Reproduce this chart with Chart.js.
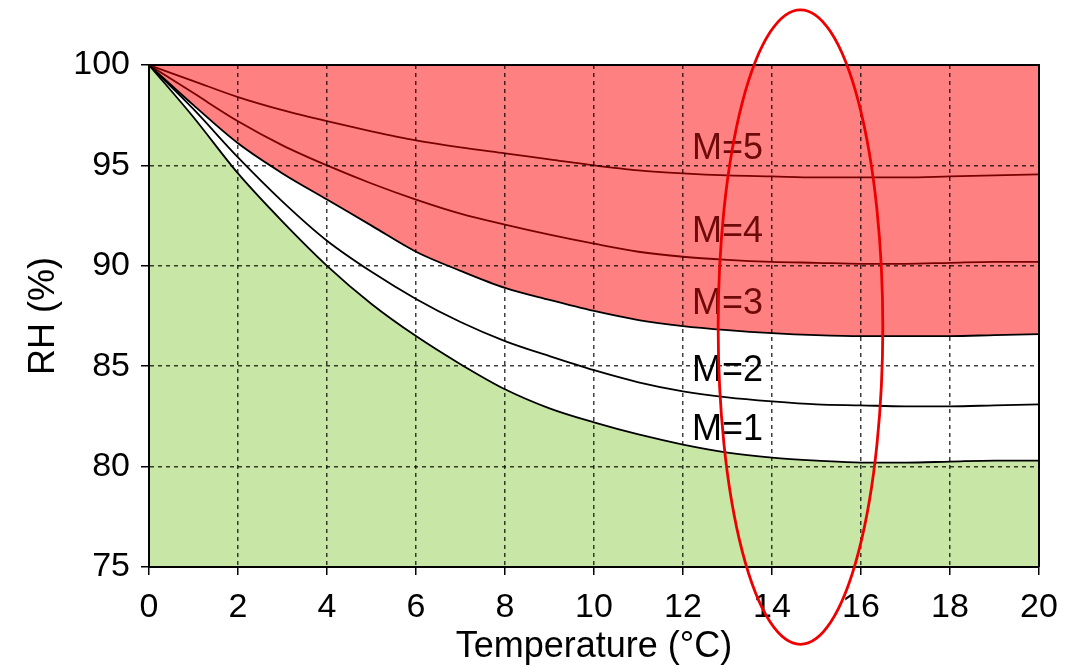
<!DOCTYPE html>
<html>
<head>
<meta charset="utf-8">
<script src="https://cdn.jsdelivr.net/npm/chart.js@4.4.0/dist/chart.umd.min.js"></script>
<style>
  html, body { margin: 0; padding: 0; background: #fff; }
  #wrap { width: 1089px; height: 669px; }
</style>
</head>
<body>
<div id="wrap"><canvas id="rhChart"></canvas></div>
<script>
// Temperature (°C) and RH (%)
const temps = [0, 1, 2, 3, 4, 5, 6, 7, 8, 9, 10, 11, 12, 13, 14, 15, 16, 17, 18, 19, 20];
const rhM1 = [100, 97.4, 94.6, 92.2, 90.0, 88.1, 86.5, 85.1, 83.85, 82.9, 82.2, 81.6, 81.1, 80.7, 80.45, 80.3, 80.2, 80.2, 80.25, 80.3, 80.3];
const rhM2 = [100, 97.8, 95.4, 93.2, 91.25, 89.7, 88.35, 87.2, 86.25, 85.5, 84.8, 84.2, 83.75, 83.45, 83.25, 83.1, 83.05, 83.0, 83.0, 83.05, 83.1];
const rhM3 = [100, 98.0, 96.1, 94.6, 93.3, 92.0, 90.7, 89.75, 88.9, 88.3, 87.75, 87.3, 87.0, 86.8, 86.65, 86.55, 86.5, 86.5, 86.5, 86.55, 86.6];
const rhM4 = [100, 98.6, 97.2, 96.0, 95.0, 94.1, 93.3, 92.6, 92.05, 91.55, 91.1, 90.7, 90.45, 90.3, 90.2, 90.15, 90.1, 90.1, 90.15, 90.2, 90.2];
const rhM5 = [100, 99.2, 98.4, 97.75, 97.2, 96.7, 96.25, 95.9, 95.6, 95.3, 95.0, 94.75, 94.6, 94.5, 94.45, 94.4, 94.4, 94.4, 94.45, 94.5, 94.55];
const curveNames = ['M=1', 'M=2', 'M=3', 'M=4', 'M=5'];
const xTicks = [0, 2, 4, 6, 8, 10, 12, 14, 16, 18, 20];
const yTicks = [75, 80, 85, 90, 95, 100];

// where the M= labels and the red ring sit, in data units
const labelX = 12.2;
const labelY = [81.8, 84.75, 88.1, 91.7, 95.8];
const labelColors = ['#000', '#000', '#6e0a0a', '#6e0a0a', '#6e0a0a'];
const ring = { x: 14.64, y: 86.95, rx: 1.85, ry: 15.8 };

const FONT = '"Liberation Sans", Arial, sans-serif';
const toPoints = ys => temps.map((t, i) => ({ x: t, y: ys[i] }));

function curve(label, ys, color, fill, bg) {
    return {
        label,
        data: toPoints(ys),
        borderColor: color,
        borderWidth: 1.8,
        pointRadius: 0,
        cubicInterpolationMode: 'monotone',
        fill: fill,
        backgroundColor: bg || 'transparent'
    };
}

const overlay = {
    id: 'overlay',
    afterDraw(chart) {
        const { ctx, chartArea: a, scales: { x, y } } = chart;
        ctx.save();
        // top and right frame
        ctx.strokeStyle = '#000';
        ctx.lineWidth = 2;
        ctx.beginPath();
        ctx.moveTo(a.left, a.top);
        ctx.lineTo(a.right, a.top);
        ctx.lineTo(a.right, a.bottom);
        ctx.stroke();

        ctx.font = '36px ' + FONT;
        ctx.textAlign = 'left';
        ctx.textBaseline = 'middle';
        curveNames.forEach((name, i) => {
            ctx.fillStyle = labelColors[i];
            ctx.fillText(name, x.getPixelForValue(labelX), y.getPixelForValue(labelY[i]));
        });

        const cx = x.getPixelForValue(ring.x);
        const cy = y.getPixelForValue(ring.y);
        const rx = Math.abs(x.getPixelForValue(ring.x + ring.rx) - cx);
        const ry = Math.abs(y.getPixelForValue(ring.y + ring.ry) - cy);
        ctx.strokeStyle = '#ee0000';
        ctx.lineWidth = 2.8;
        ctx.beginPath();
        ctx.ellipse(cx, cy, rx, ry, 0, 0, Math.PI * 2);
        ctx.stroke();
        ctx.restore();
    }
};

const gridOpts = {
    color: 'rgba(0,0,0,0.75)',
    lineWidth: 1.5,
    tickColor: '#000',
    tickLength: 8,
    tickWidth: 1.5,
    tickBorderDash: [],
    z: 1
};
const borderOpts = { display: true, color: '#000', width: 2, dash: [4, 4], z: 1 };

new Chart(document.getElementById('rhChart'), {
    type: 'line',
    data: {
        datasets: [
            curve('M=1', rhM1, '#000', 'start', '#c8e6a5'),
            curve('M=2', rhM2, '#000', false),
            curve('M=3', rhM3, '#000', 'end', '#ff8080'),
            curve('M=4', rhM4, '#780000', false),
            curve('M=5', rhM5, '#780000', false)
        ]
    },
    options: {
        responsive: true,
        maintainAspectRatio: false,
        animation: false,
        layout: { padding: { top: 65, right: 50, left: 0, bottom: 0 } },
        plugins: {
            legend: { display: false },
            tooltip: { enabled: false },
            filler: { drawTime: 'beforeDatasetsDraw' }
        },
        scales: {
            x: {
                type: 'linear',
                min: 0,
                max: 20,
                afterBuildTicks: s => { s.ticks = xTicks.map(v => ({ value: v })); },
                afterFit: s => { s.height = 102; },
                grid: gridOpts,
                border: borderOpts,
                ticks: { color: '#000', font: { family: FONT, size: 34 }, padding: 12, maxRotation: 0 },
                title: { display: true, text: 'Temperature (°C)', color: '#000', font: { family: FONT, size: 36 }, padding: { top: 0, bottom: 0 } }
            },
            y: {
                min: 75,
                max: 100,
                afterBuildTicks: s => { s.ticks = yTicks.map(v => ({ value: v })); },
                afterFit: s => { s.width = 149; },
                grid: gridOpts,
                border: borderOpts,
                ticks: { color: '#000', font: { family: FONT, size: 34 }, padding: 11 },
                title: { display: true, text: 'RH (%)', color: '#000', font: { family: FONT, size: 36 }, padding: { top: 22, bottom: 0 } }
            }
        }
    },
    plugins: [overlay]
});
</script>
</body>
</html>
